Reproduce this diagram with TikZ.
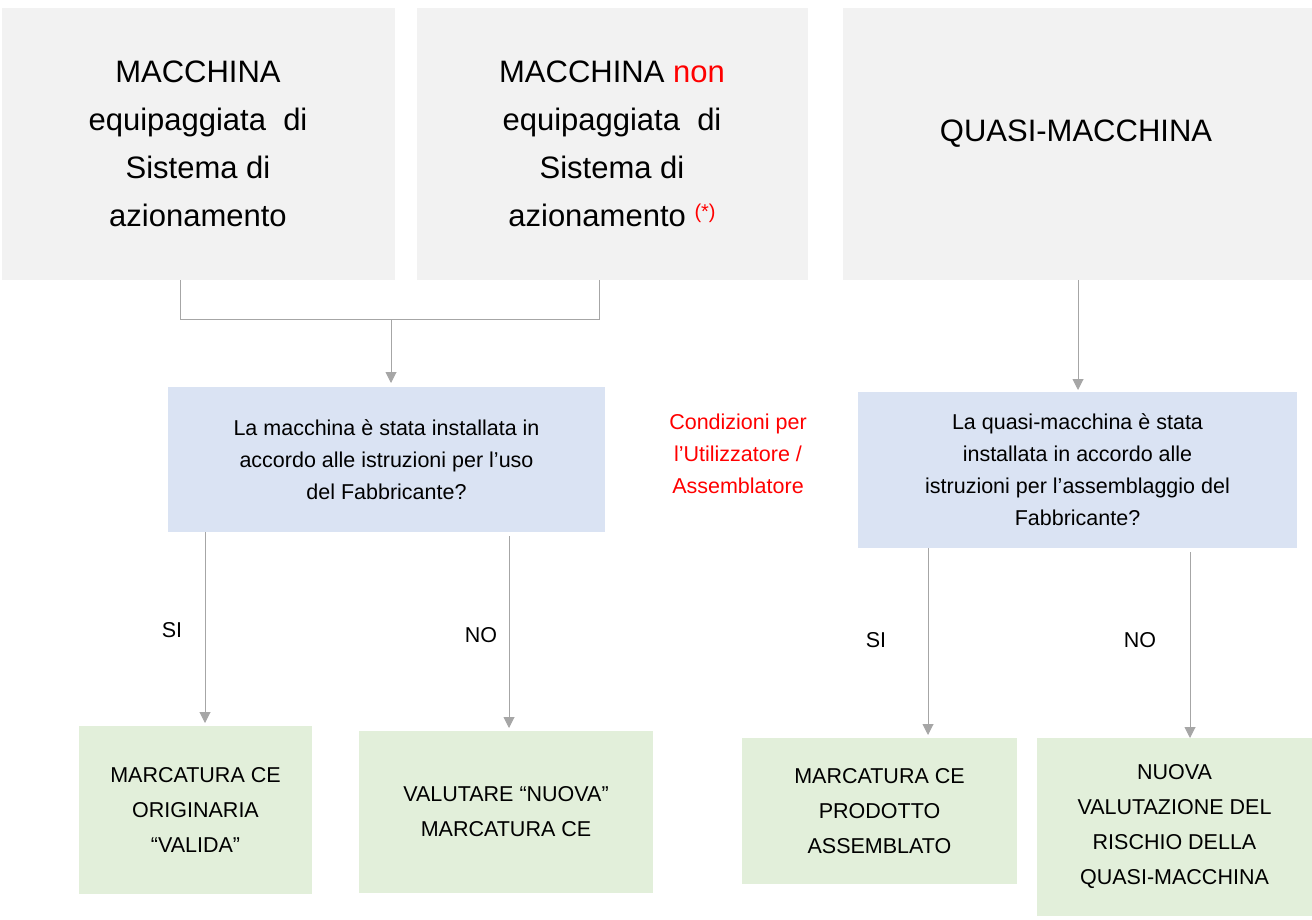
\documentclass[tikz,border=0pt]{standalone}
\usepackage{fontspec}
\setmainfont{Liberation Sans}
\usetikzlibrary{arrows.meta}
\definecolor{topg}{HTML}{F2F2F2}
\definecolor{bluef}{HTML}{DAE3F3}
\definecolor{greenf}{HTML}{E2EFDA}
\definecolor{arr}{HTML}{A6A6A6}
\begin{document}
\begin{tikzpicture}[x=1pt,y=-1pt,
  topbox/.style={fill=topg,draw=none,align=center,font=\fontsize{31}{48}\selectfont},
  qbox/.style={fill=bluef,draw=none,align=center,font=\fontsize{21.5}{32}\selectfont},
  resbox/.style={fill=greenf,draw=none,align=center,font=\fontsize{21.5}{35}\selectfont},
  conn/.style={draw=arr,line width=1pt},
  arrow/.style={conn,-{Triangle[length=11pt,width=11pt]}},
  lbl/.style={font=\fontsize{21.5}{26}\selectfont}]
\useasboundingbox (0,0) rectangle (1312,920);
\fill[topg] (2,8) rectangle (395,280);
\node[align=center,font=\fontsize{31}{48}\selectfont] (t1) at (198,144) {MACCHINA\\equipaggiata~ di\\Sistema di\\azionamento};
\fill[topg] (417,8) rectangle (808,280);
\node[align=center,font=\fontsize{31}{48}\selectfont] (t2) at (612,144) {MACCHINA \textcolor{red}{non}\\equipaggiata~ di\\Sistema di\\azionamento \raisebox{0.5ex}{\textcolor{red}{\fontsize{20}{24}\selectfont(*)}}};
\fill[topg] (843,8) rectangle (1312,280);
\node[font=\fontsize{31}{48}\selectfont] (t3) at (1076,134) {QUASI-MACCHINA};
\coordinate (t1b) at (180,280);
\coordinate (t2b) at (599,280);
\coordinate (j) at (391,319);
\draw[conn] (t1b) -- (180,319) -- (599,319) -- (t2b);
\node[qbox,minimum width=437pt,minimum height=145pt] (q1) at (386.5,459.5) {La macchina è stata installata in\\accordo alle istruzioni per l’uso\\del Fabbricante?};
\node[qbox,minimum width=439pt,minimum height=156pt] (q2) at (1077.5,470) {La quasi-macchina è stata\\installata in accordo alle\\istruzioni per l’assemblaggio del\\Fabbricante?};
\draw[arrow] (j) -- (391,383);
\draw[arrow] (1078,280) -- (1078,390);
\node[align=center,text=red,font=\fontsize{21.5}{32}\selectfont] (cond) at (738,454) {Condizioni per\\l’Utilizzatore /\\Assemblatore};
\node[resbox,minimum width=233pt,minimum height=168pt] (r1) at (195.5,810) {MARCATURA CE\\ORIGINARIA\\“VALIDA”};
\node[resbox,minimum width=294pt,minimum height=162pt] (r2) at (506,812) {VALUTARE “NUOVA"\\MARCATURA CE};
\node[resbox,minimum width=275pt,minimum height=146pt] (r3) at (879.5,811) {MARCATURA CE\\PRODOTTO\\ASSEMBLATO};
\node[resbox,minimum width=275pt,minimum height=178pt] (r4) at (1174.5,827) {NUOVA\\VALUTAZIONE DEL\\RISCHIO DELLA\\QUASI-MACCHINA};
\draw[arrow] (205,532) -- (205,723);
\draw[arrow] (509,536) -- (509,728);
\draw[arrow] (928,548) -- (928,735);
\draw[arrow] (1190,552) -- (1190,738);
\node[lbl] (si1) at (172,630) {SI};
\node[lbl] (no1) at (481,635) {NO};
\node[lbl] (si2) at (876,640) {SI};
\node[lbl] (no2) at (1140,640) {NO};
\end{tikzpicture}
\end{document}
